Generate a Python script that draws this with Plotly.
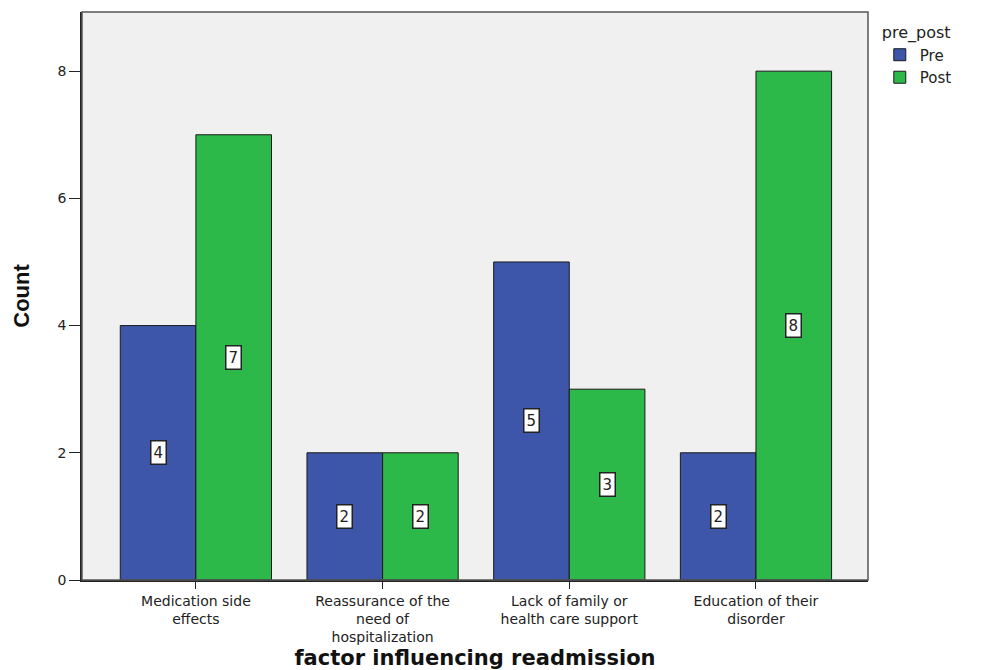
import plotly.graph_objects as go

categories = [
    "Medication side<br>effects",
    "Reassurance of the<br>need of<br>hospitalization",
    "Lack of family or<br>health care support",
    "Education of their<br>disorder",
]
pre_counts = [4, 2, 5, 2]
post_counts = [7, 2, 3, 8]
y_ticks = [0, 2, 4, 6, 8]

PRE_COLOR = "#3D56AA"
POST_COLOR = "#2DB84A"
WIDE = "DejaVu Sans, Verdana, sans-serif"

fig = go.Figure()
fig.add_trace(go.Bar(name="Pre", x=categories, y=pre_counts,
                     marker=dict(color=PRE_COLOR, line=dict(color="#1a1a1a", width=1))))
fig.add_trace(go.Bar(name="Post", x=categories, y=post_counts,
                     marker=dict(color=POST_COLOR, line=dict(color="#1a1a1a", width=1))))

# value boxes at mid-height of each bar, positioned on a numeric overlay axis
bar_w = 0.405
for i, (a, b) in enumerate(zip(pre_counts, post_counts)):
    for val, off in ((a, -bar_w / 2), (b, bar_w / 2)):
        fig.add_annotation(x=i + off, y=val / 2, xref="x2", yref="y",
                           text=str(val), showarrow=False,
                           font=dict(family=WIDE, size=15, color="#222"),
                           bgcolor="white", bordercolor="#222", borderwidth=1.5, borderpad=2)

fig.update_layout(
    width=982, height=670,
    margin=dict(l=82, r=114, t=12, b=90, autoexpand=False),
    barmode="group", bargap=0.19, bargroupgap=0,
    plot_bgcolor="#F0F0F0", paper_bgcolor="white",
    font=dict(family=WIDE, size=14, color="#222"),
    legend=dict(title=dict(text="pre_post", font=dict(size=16)),
                x=1.015, y=0.99, xanchor="left", yanchor="top",
                font=dict(size=15), tracegroupgap=0, itemwidth=30),
    xaxis=dict(type="category", range=[-0.61, 3.6], showline=True, linecolor="#222",
               linewidth=1.5, ticks="outside", ticklen=7, tickcolor="#222",
               automargin=False,
               tickfont=dict(family=WIDE, size=14, color="#222"),
               title=dict(text="factor influencing readmission",
                          font=dict(family=WIDE, size=21, color="#111", weight="bold"),
                          standoff=6)),
    xaxis2=dict(type="linear", range=[-0.61, 3.6], overlaying="x", visible=False),
    yaxis=dict(range=[0, 8.93], tickvals=y_ticks, showgrid=False, zeroline=False,
               showline=True, linecolor="#222", linewidth=1.5, automargin=False,
               ticks="outside", ticklen=11, tickcolor="#222",
               tickfont=dict(family=WIDE, size=14, color="#222"),
               title=dict(text="Count",
                          font=dict(family="Liberation Sans Narrow, Liberation Sans", size=22,
                                    color="#111", weight="bold"),
                          standoff=22)),
    shapes=[dict(type="rect", xref="paper", yref="paper", x0=0, y0=0, x1=1, y1=1,
                 line=dict(color="#555", width=1.5), layer="above")],
)

fig.write_html("out.html")
